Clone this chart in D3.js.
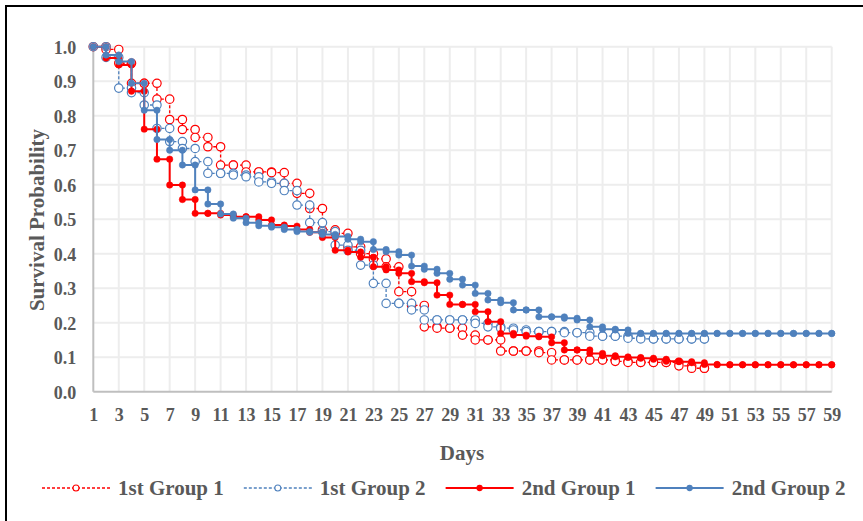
<!DOCTYPE html>
<meta charset="utf-8">

<!-- Load d3.js -->
<script src="https://d3js.org/d3.v7.min.js"></script>

<body>
    <div id="viz"></div>
</body>

<style>
    body {
        margin : 0;
        background : #fff;
    }
    text {
        font-family : "Liberation Serif", "Times New Roman", serif;
        font-weight : bold;
        fill : #595959;
    }
</style>

<script>
    // survival probability per day (day 1 .. n)
    let first1 = [1.000, 0.992, 0.952, 0.894, 0.894, 0.848, 0.789, 0.760, 0.737, 0.710,
                  0.657, 0.657, 0.637, 0.637, 0.635, 0.604, 0.575, 0.531, 0.469, 0.459,
                  0.420, 0.400, 0.385, 0.362, 0.290, 0.250, 0.188, 0.184, 0.184, 0.164,
                  0.150, 0.150, 0.118, 0.118, 0.118, 0.113, 0.092, 0.092, 0.092, 0.092,
                  0.092, 0.088, 0.085, 0.085, 0.085, 0.085, 0.075, 0.068, 0.068];
    let first2 = [1.000, 0.969, 0.880, 0.867, 0.831, 0.763, 0.725, 0.705, 0.667, 0.633,
                  0.633, 0.628, 0.623, 0.608, 0.604, 0.583, 0.541, 0.490, 0.464, 0.425,
                  0.410, 0.367, 0.314, 0.256, 0.256, 0.237, 0.208, 0.208, 0.208, 0.208,
                  0.198, 0.188, 0.184, 0.179, 0.174, 0.174, 0.174, 0.171, 0.171, 0.161,
                  0.161, 0.161, 0.155, 0.153, 0.153, 0.153, 0.153, 0.153, 0.153];
    let second1 = [1.000, 0.967, 0.947, 0.871, 0.761, 0.674, 0.599, 0.557, 0.517, 0.517,
                   0.512, 0.507, 0.507, 0.498, 0.483, 0.480, 0.470, 0.462, 0.447, 0.410,
                   0.405, 0.390, 0.362, 0.353, 0.343, 0.319, 0.316, 0.280, 0.253, 0.253,
                   0.232, 0.203, 0.169, 0.164, 0.161, 0.159, 0.142, 0.121, 0.121, 0.111,
                   0.104, 0.101, 0.099, 0.097, 0.094, 0.088, 0.087, 0.084, 0.079, 0.078,
                   0.078, 0.078, 0.078, 0.078, 0.078, 0.078, 0.078, 0.078, 0.078];
    let second2 = [1.000, 0.976, 0.957, 0.894, 0.816, 0.731, 0.700, 0.657, 0.585, 0.544,
                   0.515, 0.503, 0.490, 0.481, 0.477, 0.470, 0.464, 0.462, 0.456, 0.450,
                   0.442, 0.435, 0.412, 0.406, 0.396, 0.364, 0.355, 0.343, 0.326, 0.309,
                   0.285, 0.266, 0.258, 0.237, 0.237, 0.217, 0.217, 0.213, 0.208, 0.188,
                   0.181, 0.179, 0.169, 0.169, 0.169, 0.169, 0.169, 0.169, 0.169, 0.169,
                   0.169, 0.169, 0.169, 0.169, 0.169, 0.169, 0.169, 0.169, 0.169];

    let names = ["1st Group 1", "1st Group 2", "2nd Group 1", "2nd Group 2"];
    let xTicks = [1, 3, 5, 7, 9, 11, 13, 15, 17, 19, 21, 23, 25, 27, 29, 31, 33, 35, 37, 39,
                  41, 43, 45, 47, 49, 51, 53, 55, 57, 59];
    let yTicks = [0, 0.1, 0.2, 0.3, 0.4, 0.5, 0.6, 0.7, 0.8, 0.9, 1.0];

    let width = 863, height = 521;
    let margin = {top : 46.7, right : 31.3, bottom : 129.3, left : 93.3};

    let svg = d3.select("#viz")
        .append("svg")
        .attr("width", width)
        .attr("height", height);

    // black frame (only top and left are in view)
    svg.append("rect")
        .attr("x", 6).attr("y", 6)
        .attr("width", 900).attr("height", 600)
        .attr("fill", "none")
        .attr("stroke", "#000")
        .attr("stroke-width", 2);

    let x = d3.scaleLinear()
        .domain([1, 59])
        .range([margin.left, width - margin.right]);
    let y = d3.scaleLinear()
        .domain([0, 1])
        .range([height - margin.bottom, margin.top]);

    // gridlines
    let grid = svg.append("g");
    grid.selectAll(".hg")
        .data(yTicks.slice(1))
        .enter()
        .append("line")
            .attr("x1", x(1)).attr("x2", x(59))
            .attr("y1", d => y(d)).attr("y2", d => y(d))
            .style("stroke", "#ededed")
            .style("stroke-width", 2);
    grid.selectAll(".vg")
        .data(xTicks.slice(1))
        .enter()
        .append("line")
            .attr("x1", d => x(d)).attr("x2", d => x(d))
            .attr("y1", y(0)).attr("y2", y(1))
            .style("stroke", "#ededed")
            .style("stroke-width", 2);

    // axis lines
    svg.append("line")
        .attr("x1", x(1)).attr("x2", x(59))
        .attr("y1", y(0)).attr("y2", y(0))
        .style("stroke", "#bfbfbf").style("stroke-width", 2);
    svg.append("line")
        .attr("x1", x(1)).attr("x2", x(1))
        .attr("y1", y(0)).attr("y2", y(1))
        .style("stroke", "#bfbfbf").style("stroke-width", 2);

    // tick labels
    let xAxis = svg.append("g")
        .attr("transform", `translate(0,${y(0)})`)
        .call(d3.axisBottom(x).tickValues(xTicks).tickSize(0).tickPadding(16.5).tickFormat(d3.format("d")));
    xAxis.select(".domain").remove();
    xAxis.selectAll(".tick text")
        .attr("font-size", 18);

    let yAxis = svg.append("g")
        .attr("transform", `translate(${x(1)},0)`)
        .call(d3.axisLeft(y).tickValues(yTicks).tickSize(0).tickPadding(17).tickFormat(d3.format(".1f")));
    yAxis.select(".domain").remove();
    yAxis.selectAll(".tick text")
        .attr("font-size", 18)
        .attr("dy", "0.35em");
    svg.selectAll(".tick text").attr("font-family", null);

    // axis titles
    svg.append("text")
        .attr("x", 462).attr("y", 460)
        .attr("text-anchor", "middle")
        .style("font-size", "21px")
        .text("Days");
    svg.append("text")
        .attr("transform", "translate(44,220) rotate(-90)")
        .attr("text-anchor", "middle")
        .style("font-size", "21px")
        .text("Survival Probability");

    // series styling
    let series = [
        {name : names[0], values : first1, color : "#ff0000", dash : "3,2", width : 1.3, open : true},
        {name : names[1], values : first2, color : "#4f81bd", dash : "3,2", width : 1.3, open : true},
        {name : names[2], values : second1, color : "#ff0000", dash : null, width : 2, open : false},
        {name : names[3], values : second2, color : "#4f81bd", dash : null, width : 2, open : false}
    ];

    // Kaplan-Meier steps: (d, S(d-1)) then (d, S(d))
    function steps(values) {
        let pts = [[1, values[0]]];
        for (let i = 1; i < values.length; i++) {
            pts.push([i + 1, values[i - 1]]);
            pts.push([i + 1, values[i]]);
        }
        return pts;
    }

    let line = d3.line()
        .x(d => x(d[0]))
        .y(d => y(d[1]));

    series.forEach(function(s) {
        let pts = steps(s.values);
        let g = svg.append("g");
        g.append("path")
            .datum(pts)
            .attr("d", line)
            .attr("fill", "none")
            .attr("stroke", s.color)
            .attr("stroke-width", s.width)
            .attr("stroke-dasharray", s.dash);
        g.selectAll("circle")
            .data(pts)
            .enter()
            .append("circle")
                .attr("cx", d => x(d[0]))
                .attr("cy", d => y(d[1]))
                .attr("r", s.open ? 4.2 : 3.2)
                .attr("fill", s.open ? "#fff" : s.color)
                .attr("stroke", s.color)
                .attr("stroke-width", s.open ? 1.2 : 0.5);
    });

    // legend
    let legend = svg.append("g").attr("transform", "translate(0,488)");
    let lx = 42;
    series.forEach(function(s) {
        let item = legend.append("g").attr("transform", `translate(${lx},0)`);
        item.append("line")
            .attr("x1", 0).attr("x2", 68)
            .attr("stroke", s.color)
            .attr("stroke-width", s.width)
            .attr("stroke-dasharray", s.dash);
        item.append("circle")
            .attr("cx", 34).attr("cy", 0)
            .attr("r", s.open ? 3 : 2.6)
            .attr("fill", s.open ? "#fff" : s.color)
            .attr("stroke", s.color)
            .attr("stroke-width", 1.1);
        let t = item.append("text")
            .attr("x", 76).attr("y", 7)
            .style("font-size", "21px")
            .text(s.name);
        lx += 76 + t.node().getComputedTextLength() + 20;
    });
</script>
